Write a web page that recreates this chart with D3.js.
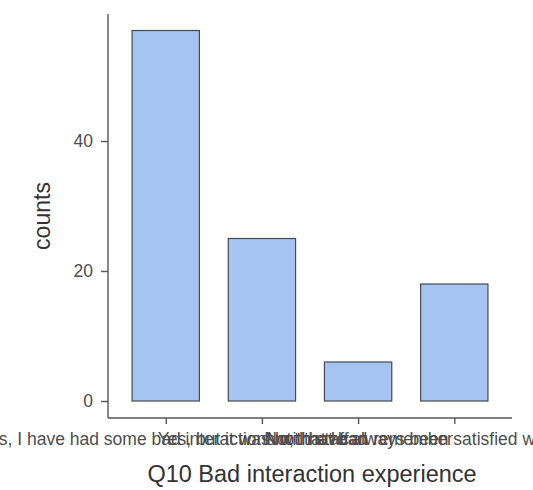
<!DOCTYPE html>
<html><head><meta charset="utf-8">
<script src="https://cdn.jsdelivr.net/npm/d3@7"></script>
<style>body{margin:0;background:#fff;} text{font-family:"Liberation Sans",Arial,sans-serif;}</style>
</head><body>
<svg id="chart" width="533" height="490"></svg>
<script>
const categories = [
  "Yes, I have had some bad interactions with staff.",
  "Yes, but it was not that bad",
  "Not that I can remember",
  "No, I have always been satisfied with the service"
];
const counts = [57, 25, 6, 18];
const yTicks = [0, 20, 40];
const xTitle = "Q10 Bad interaction experience";
const yTitle = "counts";

const svg = d3.select("#chart");
const pLeft = 108, pRight = 512, pTop = 14, pBottom = 418;

const x = d3.scalePoint().domain(categories).range([pLeft, pRight]).padding(0.6);
const step = x.step();
const barW = step * 0.7;
const y = d3.scaleLinear().domain([-2.615, 59.54]).range([pBottom, pTop]);

svg.append("g").selectAll("rect").data(counts).join("rect")
  .attr("x", (d, i) => x(categories[i]) - barW / 2)
  .attr("y", d => y(d))
  .attr("width", barW)
  .attr("height", d => y(0) - y(d))
  .attr("fill", "#a6c4f1")
  .attr("stroke", "#4a4a4a")
  .attr("stroke-width", 1.2);

const xAxis = svg.append("g").attr("transform", `translate(0,${pBottom})`)
  .call(d3.axisBottom(x).tickSize(6).tickPadding(9));
const yAxis = svg.append("g").attr("transform", `translate(${pLeft},0)`)
  .call(d3.axisLeft(y).tickValues(yTicks).tickSize(7).tickPadding(8));

[xAxis, yAxis].forEach(g => {
  g.select(".domain").attr("stroke", "#555").attr("stroke-width", 1.4);
  g.selectAll(".tick line").attr("stroke", "#555").attr("stroke-width", 1.4);
  g.selectAll(".tick text").attr("fill", "#4d4d4d").style("font-size", "17.5px");
});
yAxis.select(".domain").attr("d", `M0,${pTop}V${pBottom}`);
xAxis.select(".domain").attr("d", `M${pLeft},0H${pRight}`);

svg.append("text").attr("x", (pLeft + pRight) / 2 + 2).attr("y", 482)
  .attr("text-anchor", "middle").attr("fill", "#333").style("font-size", "23.5px").text(xTitle);
svg.append("text").attr("transform", `translate(50,${(pTop + pBottom) / 2}) rotate(-90)`)
  .attr("text-anchor", "middle").attr("fill", "#333").style("font-size", "23px").text(yTitle);
</script>
</body></html>
